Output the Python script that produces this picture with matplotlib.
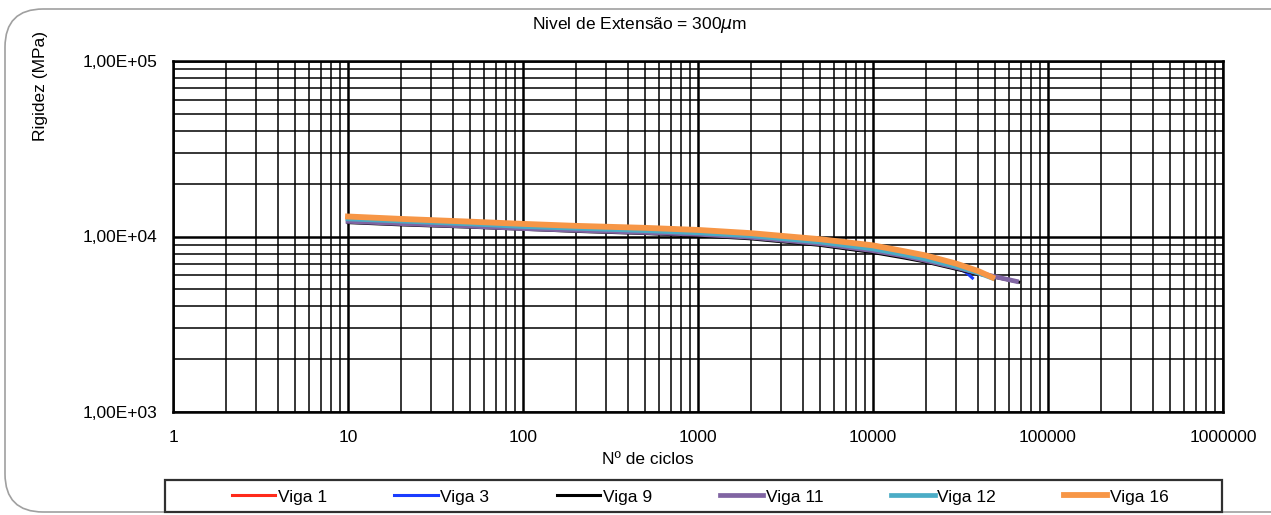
import math
import matplotlib.pyplot as plt
from matplotlib.patches import FancyBboxPatch, Rectangle
from matplotlib.ticker import LogLocator, FixedLocator, FuncFormatter, NullFormatter

plt.rcParams['font.family'] = ['Liberation Sans', 'DejaVu Sans']

# stiffness (MPa) vs number of cycles for each beam
viga1_n = [10, 20, 50, 100, 200, 500, 1000, 2000, 5000, 10000, 15000, 20000, 30000, 40000]
viga1_e = [12200, 11850, 11450, 11100, 10850, 10550, 10300, 9900, 9100, 8300, 7750, 7300, 6700, 6200]

viga3_n = [10, 20, 50, 100, 200, 500, 1000, 2000, 5000, 10000, 15000, 20000, 25000, 30000, 34000, 37000]
viga3_e = [12300, 11950, 11550, 11200, 10950, 10650, 10400, 10000, 9200, 8400, 7800, 7350, 7000, 6650, 6250, 5800]

viga9_n = [10, 20, 50, 100, 200, 500, 1000, 2000, 5000, 10000, 15000, 20000, 30000, 40000, 50000, 68000]
viga9_e = [12000, 11650, 11300, 11000, 10700, 10400, 10100, 9700, 8900, 8100, 7550, 7150, 6500, 6100, 5850, 5500]

viga11_n = [10, 20, 50, 100, 200, 500, 1000, 2000, 5000, 10000, 15000, 20000, 30000, 40000, 50000, 66000]
viga11_e = [12200, 11850, 11450, 11100, 10850, 10550, 10300, 9900, 9100, 8300, 7750, 7300, 6650, 6200, 5900, 5550]

viga12_n = [10, 20, 50, 100, 200, 500, 1000, 2000, 5000, 10000, 15000, 20000, 30000, 40000, 48000]
viga12_e = [12600, 12250, 11800, 11400, 11150, 10800, 10500, 10100, 9300, 8500, 7900, 7450, 6750, 6200, 5800]

viga16_n = [10, 20, 50, 100, 200, 500, 1000, 2000, 5000, 10000, 15000, 20000, 30000, 40000, 48000]
viga16_e = [13000, 12600, 12150, 11800, 11500, 11200, 10900, 10450, 9650, 8900, 8250, 7800, 7000, 6350, 5850]

series = [
    ('Viga 1', viga1_n, viga1_e, '#FF2A1A', 2.2),
    ('Viga 3', viga3_n, viga3_e, '#1A3CFF', 2.2),
    ('Viga 9', viga9_n, viga9_e, '#000000', 2.2),
    ('Viga 11', viga11_n, viga11_e, '#8064A2', 3.4),
    ('Viga 12', viga12_n, viga12_e, '#4BACC6', 3.4),
    ('Viga 16', viga16_n, viga16_e, '#F79646', 4.2),
]

W, H = 1271, 515
fig = plt.figure(figsize=(W / 100, H / 100), dpi=100)

# rounded outer frame (runs off the right edge)
fig.patches.append(FancyBboxPatch((5 / W, 1 - 512 / H), 1320 / W, 503 / H,
                                  boxstyle='round,pad=0,rounding_size=0.03',
                                  transform=fig.transFigure, fc='none',
                                  ec='#a0a0a0', lw=1.2, mutation_aspect=W / H))

ax = fig.add_axes([173 / W, 1 - 412 / H, 1050 / W, 351 / H])

for name, n, e, c, lw in series:
    ax.plot(n, e, color=c, lw=lw, label=name)

ax.set_xscale('log')
ax.set_yscale('log')
ax.set_xlim(1, 1e6)
ax.set_ylim(1e3, 1e5)

ax.xaxis.set_major_locator(FixedLocator([1, 10, 100, 1000, 1e4, 1e5, 1e6]))
ax.xaxis.set_minor_locator(LogLocator(base=10, subs=range(2, 10), numticks=20))
ax.yaxis.set_major_locator(FixedLocator([1e3, 1e4, 1e5]))
ax.yaxis.set_minor_locator(LogLocator(base=10, subs=range(2, 10), numticks=20))
ax.xaxis.set_major_formatter(FuncFormatter(lambda v, p: '%d' % round(v)))
ax.yaxis.set_major_formatter(FuncFormatter(lambda v, p: '1,00E+%02d' % round(math.log10(v))))
ax.xaxis.set_minor_formatter(NullFormatter())
ax.yaxis.set_minor_formatter(NullFormatter())

ax.grid(which='major', color='black', lw=1.8)
ax.grid(which='minor', color='black', lw=1.1)
ax.set_axisbelow(True)
ax.tick_params(which='both', length=0, labelsize=12.5)
ax.tick_params(axis='x', pad=13)
ax.tick_params(axis='y', pad=11)
for s in ax.spines.values():
    s.set_color('black')
    s.set_linewidth(1.8)

fig.text(648 / W, 1 - 459 / H, 'Nº de ciclos', ha='center', va='center', fontsize=12.5)
fig.text(40 / W, 1 - 86 / H, 'Rigidez (MPa)', ha='center', va='center',
         rotation=90, fontsize=12.5)
fig.text(640 / W, 1 - 25 / H, 'Nivel de Extensão = 300$\\mu$m',
         ha='center', va='center', fontsize=12.5)

# legend box
fig.patches.append(Rectangle((165 / W, 1 - 512 / H), 1057 / W, 32 / H,
                             transform=fig.transFigure, fc='white',
                             ec='#303030', lw=1.6))
leg = fig.legend(loc='center', ncol=6, bbox_to_anchor=(700 / W, 1 - 497 / H),
                 frameon=False, fontsize=12.5, handlelength=2.5,
                 handletextpad=0.15, columnspacing=3.9, borderaxespad=0)

fig.savefig('out.png', dpi=100)
